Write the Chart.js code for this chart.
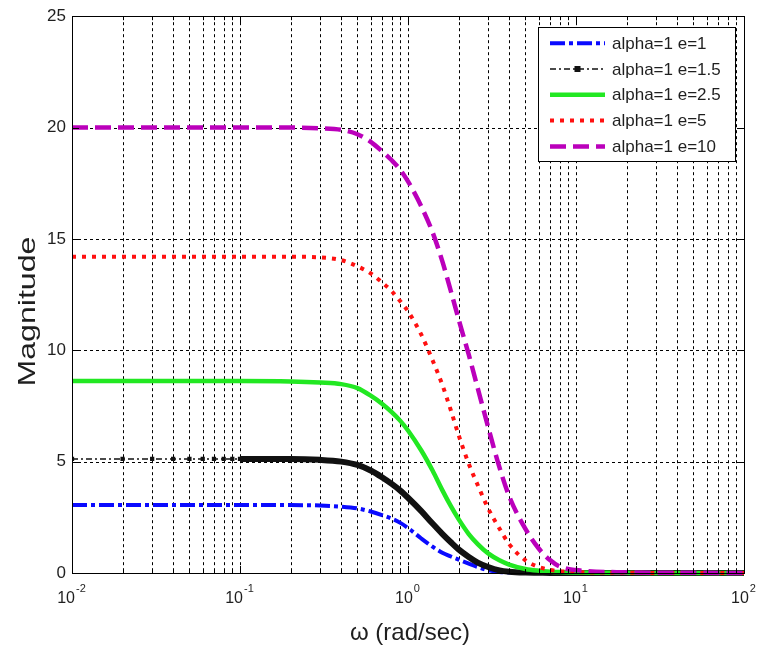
<!DOCTYPE html>
<html>
<head>
<meta charset="utf-8">
<script src="https://cdn.jsdelivr.net/npm/chart.js@4.4.0/dist/chart.umd.min.js"></script>
<style>
  html, body { margin: 0; padding: 0; background: #ffffff; }
  #wrap { width: 757px; height: 646px; }
</style>
</head>
<body>
<div id="wrap"><canvas id="c" width="757" height="646"></canvas></div>
<script>
// Frequency samples (rad/sec)
const omega = [0.01, 0.02, 0.03, 0.04, 0.05, 0.06, 0.07, 0.08, 0.09, 0.1,
               0.2, 0.3, 0.4, 0.5, 0.6, 0.7, 0.8, 0.9,
               1, 1.2, 1.4, 1.6, 1.8, 2, 2.3, 2.6, 3, 3.5,
               4, 5, 6, 7, 8, 10, 20, 50, 100];

// Magnitude for each eccentricity value (alpha = 1)
const magE1   = [3.05, 3.05, 3.05, 3.05, 3.05, 3.05, 3.05, 3.05, 3.05, 3.05,
                 3.05, 3.03, 2.98, 2.9, 2.76, 2.6, 2.44, 2.25,
                 2.02, 1.55, 1.18, 0.91, 0.74, 0.6, 0.42, 0.27, 0.12, 0.05,
                 0.02, 0.01, 0, 0, 0, 0, 0, 0, 0];
const magE1_5 = [5.12, 5.12, 5.12, 5.12, 5.12, 5.12, 5.12, 5.12, 5.12, 5.12,
                 5.12, 5.08, 5.0, 4.85, 4.6, 4.3, 4.0, 3.7,
                 3.38, 2.78, 2.22, 1.76, 1.38, 1.06, 0.72, 0.47, 0.27, 0.12,
                 0.06, 0.02, 0.01, 0, 0, 0, 0, 0, 0];
const magE2_5 = [8.62, 8.62, 8.62, 8.62, 8.62, 8.62, 8.62, 8.62, 8.62, 8.62,
                 8.6, 8.55, 8.48, 8.3, 7.96, 7.6, 7.22, 6.83,
                 6.4, 5.5, 4.6, 3.72, 3.0, 2.42, 1.75, 1.3, 0.88, 0.57,
                 0.38, 0.18, 0.1, 0.06, 0.04, 0.02, 0.01, 0, 0];
const magE5   = [14.2, 14.2, 14.2, 14.2, 14.2, 14.2, 14.2, 14.2, 14.2, 14.2,
                 14.2, 14.17, 14.05, 13.77, 13.45, 13.05, 12.65, 12.2,
                 11.75, 10.7, 9.55, 8.45, 7.3, 6.2, 4.9, 3.95, 2.9, 2.0,
                 1.3, 0.57, 0.27, 0.14, 0.08, 0.04, 0.01, 0, 0];
const magE10  = [20.0, 20.0, 20.0, 20.0, 20.0, 20.0, 20.0, 20.0, 20.0, 20.0,
                 20.0, 19.97, 19.9, 19.7, 19.36, 18.94, 18.53, 18.1,
                 17.58, 16.46, 15.3, 14.0, 12.65, 11.4, 9.8, 8.3, 6.55, 4.75,
                 3.45, 1.98, 1.1, 0.58, 0.29, 0.13, 0.03, 0.01, 0];

const seriesLabels = ['alpha=1 e=1', 'alpha=1 e=1.5', 'alpha=1 e=2.5', 'alpha=1 e=5', 'alpha=1 e=10'];

// Axis ticks
const xDecadeExps = [-2, -1, 0, 1, 2];
const xMinorSteps = [2, 3, 4, 5, 6, 7, 8, 9];
const yTicks = [0, 5, 10, 15, 20, 25];

const xTitle = 'ω (rad/sec)';
const yTitle = 'Magnitude';

const FONT = '"Liberation Sans", Arial, Helvetica, sans-serif';
const TEXT = '#1f1f1f';

const pts = vals => omega.map((w, i) => ({ x: w, y: vals[i] }));

// Styles used both for the curves and the legend samples
const styles = [
  { color: '#0a0aff', width: 4,   dash: [15, 4, 4, 4] },
  { color: '#111111', width: 1.5, dash: [6, 3, 2, 3], marker: true },
  { color: '#22e822', width: 4.5, dash: [] },
  { color: '#ff1010', width: 4,   dash: [4, 6] },
  { color: '#bb00bb', width: 4.5, dash: [16, 7] }
];

// Grid, box, inner ticks, labels, titles and legend in the MATLAB figure style
const figureDecor = {
  id: 'figureDecor',
  beforeDatasetsDraw(chart) {
    const { ctx, chartArea: a, scales: { x, y } } = chart;
    ctx.save();
    ctx.strokeStyle = '#000';
    ctx.lineWidth = 1;
    ctx.setLineDash([3, 3]);
    ctx.beginPath();
    xDecadeExps.forEach(e => {
      [1, ...xMinorSteps].forEach(k => {
        const v = k * Math.pow(10, e);
        if (v <= x.min * 1.0001 || v >= x.max * 0.9999) return;
        const px = Math.round(x.getPixelForValue(v)) + 0.5;
        ctx.moveTo(px, a.top);
        ctx.lineTo(px, a.bottom);
      });
    });
    yTicks.forEach(t => {
      if (t <= y.min || t >= y.max) return;
      const py = Math.round(y.getPixelForValue(t)) + 0.5;
      ctx.moveTo(a.left, py);
      ctx.lineTo(a.right, py);
    });
    ctx.stroke();
    ctx.restore();
  },
  afterDatasetsDraw(chart) {
    const { ctx, chartArea: a, scales: { x, y } } = chart;
    ctx.save();
    ctx.setLineDash([]);
    ctx.strokeStyle = '#000';
    ctx.lineWidth = 1;

    // inner tick marks
    ctx.beginPath();
    xDecadeExps.forEach(e => {
      [1, ...xMinorSteps].forEach(k => {
        const v = k * Math.pow(10, e);
        if (v > x.max * 1.0001) return;
        const px = Math.round(x.getPixelForValue(v)) + 0.5;
        const len = k === 1 ? 7 : 4;
        ctx.moveTo(px, a.bottom); ctx.lineTo(px, a.bottom - len);
        ctx.moveTo(px, a.top); ctx.lineTo(px, a.top + len);
      });
    });
    yTicks.forEach(t => {
      const py = Math.round(y.getPixelForValue(t)) + 0.5;
      ctx.moveTo(a.left, py); ctx.lineTo(a.left + 7, py);
      ctx.moveTo(a.right, py); ctx.lineTo(a.right - 7, py);
    });
    ctx.stroke();

    // axes box
    ctx.strokeRect(Math.round(a.left) + 0.5, Math.round(a.top) + 0.5,
                   Math.round(a.right - a.left), Math.round(a.bottom - a.top));

    // x tick labels as 10 with a superscript exponent
    ctx.fillStyle = TEXT;
    ctx.textBaseline = 'middle';
    xDecadeExps.forEach(e => {
      const px = x.getPixelForValue(Math.pow(10, e));
      const base = '10', sup = String(e);
      ctx.font = '16px ' + FONT;
      const wb = ctx.measureText(base).width;
      ctx.font = '11px ' + FONT;
      const ws = ctx.measureText(sup).width;
      const x0 = px - (wb + ws) / 2 - 1;
      ctx.textAlign = 'left';
      ctx.font = '16px ' + FONT;
      ctx.fillText(base, x0, a.bottom + 26);
      ctx.font = '11px ' + FONT;
      ctx.fillText(sup, x0 + wb + 1, a.bottom + 16);
    });

    // axis titles
    ctx.textAlign = 'center';
    ctx.font = '24px ' + FONT;
    ctx.fillText(xTitle, (a.left + a.right) / 2 + 2, a.bottom + 60);

    ctx.save();
    ctx.translate(28, (a.top + a.bottom) / 2 + 17);
    ctx.rotate(-Math.PI / 2);
    const wy = ctx.measureText(yTitle).width;
    ctx.scale(150 / wy, 1);
    ctx.fillText(yTitle, 0, 0);
    ctx.restore();

    // legend
    const lw = 197, lh = 134;
    const lx = a.right - 9 - lw, ly = a.top + 11;
    ctx.fillStyle = '#ffffff';
    ctx.fillRect(lx, ly, lw, lh);
    ctx.strokeStyle = '#000';
    ctx.lineWidth = 1;
    ctx.strokeRect(Math.round(lx) + 0.5, Math.round(ly) + 0.5, lw, lh);
    ctx.font = '17px ' + FONT;
    ctx.textAlign = 'left';
    ctx.textBaseline = 'middle';
    seriesLabels.forEach((lab, i) => {
      const s = styles[i];
      const cy = ly + 16 + i * 25.8;
      const x1 = lx + 12, x2 = lx + 67;
      ctx.save();
      ctx.strokeStyle = s.color;
      ctx.lineWidth = s.width;
      ctx.lineCap = 'butt';
      ctx.setLineDash(s.dash);
      ctx.beginPath();
      ctx.moveTo(x1, cy); ctx.lineTo(x2, cy);
      ctx.stroke();
      if (s.marker) {
        ctx.fillStyle = s.color;
        ctx.fillRect((x1 + x2) / 2 - 3, cy - 3, 6, 6);
      }
      ctx.restore();
      ctx.fillStyle = TEXT;
      ctx.fillText(lab, lx + 74, cy + 1);
    });
    ctx.restore();
  }
};

const makeSet = (i, vals, order) => {
  const s = styles[i];
  return {
    label: seriesLabels[i],
    data: pts(vals),
    borderColor: s.color,
    backgroundColor: s.color,
    borderWidth: s.width,
    borderDash: s.dash,
    borderCapStyle: 'butt',
    pointRadius: 0,
    fill: false,
    cubicInterpolationMode: 'monotone',
    order: order,
    clip: { left: 0, top: 0, right: 0, bottom: 3 }
  };
};

const dsBlack = makeSet(1, magE1_5, 4);
// Dash-dot with square markers where the samples are sparse, a thick solid trace beyond
dsBlack.pointStyle = 'rect';
dsBlack.pointRadius = ctx => (omega[ctx.dataIndex] <= 0.1 ? 3 : 0);
dsBlack.pointBorderWidth = 0;
dsBlack.segment = {
  borderWidth: ctx => (ctx.p0.parsed.x < 0.099 ? 1.5 : 6),
  borderDash: ctx => (ctx.p0.parsed.x < 0.099 ? [6, 3, 2, 3] : [])
};

new Chart(document.getElementById('c'), {
  type: 'line',
  data: {
    datasets: [
      makeSet(0, magE1, 5),
      dsBlack,
      makeSet(2, magE2_5, 3),
      makeSet(3, magE5, 2),
      makeSet(4, magE10, 1)
    ]
  },
  options: {
    responsive: false,
    animation: false,
    devicePixelRatio: 1,
    layout: { padding: { top: 14, right: 13, left: 0, bottom: 0 } },
    plugins: { legend: { display: false }, tooltip: { enabled: false } },
    scales: {
      x: {
        type: 'logarithmic',
        min: 0.01,
        max: 100,
        grid: { display: false },
        border: { display: false },
        ticks: { display: false },
        afterBuildTicks: scale => {
          const t = [];
          xDecadeExps.forEach(e => [1, ...xMinorSteps].forEach(k => {
            const v = k * Math.pow(10, e);
            if (v <= 100.0001) t.push({ value: v });
          }));
          scale.ticks = t;
        },
        afterFit: scale => { scale.height = 73; }
      },
      y: {
        type: 'linear',
        min: 0,
        max: 25,
        grid: { display: false, drawTicks: false },
        border: { display: false },
        ticks: {
          stepSize: 5,
          padding: 6,
          color: TEXT,
          font: { family: FONT, size: 17 }
        },
        afterFit: scale => { scale.width = 72; }
      }
    }
  },
  plugins: [figureDecor]
});
</script>
</body>
</html>
